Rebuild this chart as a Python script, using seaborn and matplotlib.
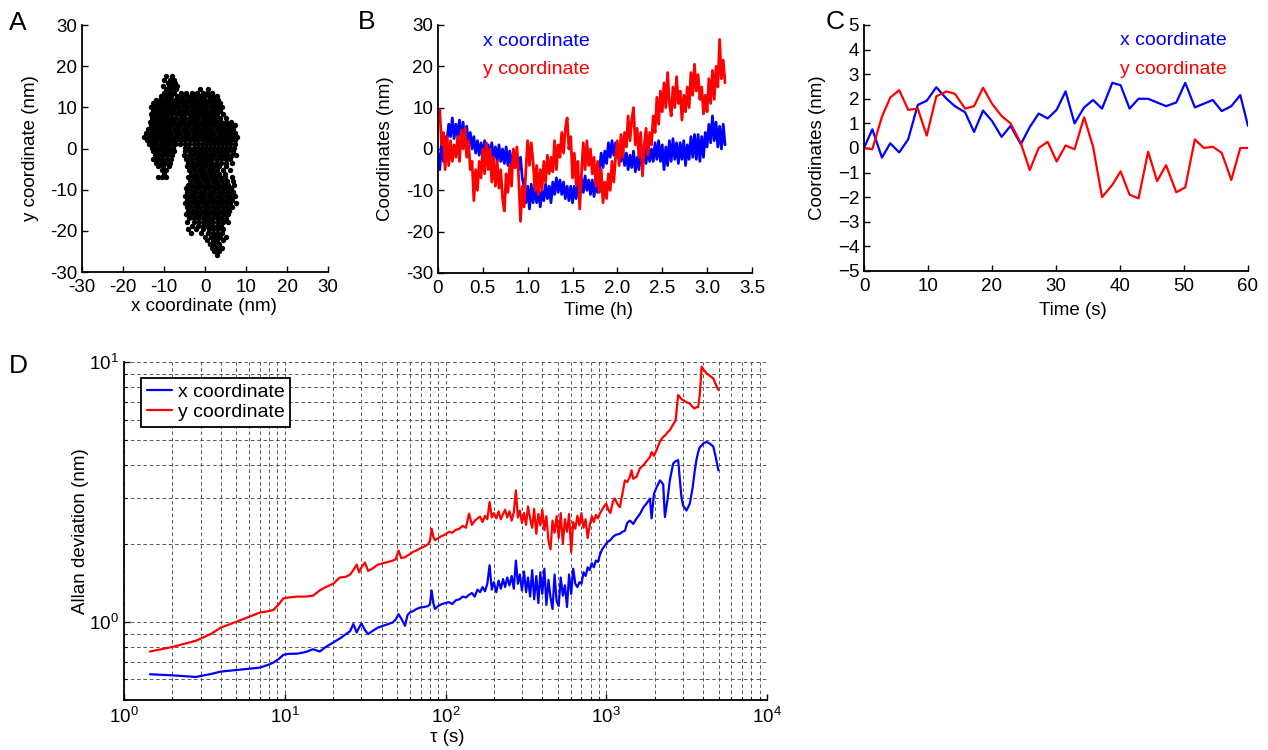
import numpy as np
import matplotlib
matplotlib.use("Agg")
import matplotlib.pyplot as plt
import matplotlib.ticker as mticker
import seaborn as sns

BLUE = "#0000ff"
RED = "#ff0000"

# ---------------- Panel A: bead positions (nm), stored row by row as (y, [x, ...])
a_rows = [
    (17.6, [-9.4, -8.1]),
    (16.7, [-9.9, -8.6, -7.6]),
    (15.9, [-9.1, -8.0, -7.3]),
    (15.1, [-10.2, -8.7, -7.8, -6.9]),
    (14.4, [-9.6, -8.4, -7.2, -1.3, 0.8]),
    (13.6, [-10.1, -8.9, -7.6, -5.9, -4.6, -3.2, -1.9, -0.6, 0.6, 1.8]),
    (12.8, [-10.8, -9.4, -8.2, -6.9, -5.6, -4.4, -3.4, -2.4, -1.3, -0.2, 0.9, 2.0, 2.9]),
    (11.9, [-12.0, -11.0, -10.0, -9.1, -8.2, -7.3, -6.2, -5.1, -4.0, -3.0, -2.0, -1.0, 0.1, 1.1, 2.1, 3.2]),
    (11.0, [-12.8, -11.8, -10.8, -9.8, -8.8, -7.8, -6.8, -5.7, -4.6, -3.5, -2.5, -1.5, -0.5, 0.6, 1.6, 2.6, 3.6]),
    (10.1, [-13.2, -12.2, -11.2, -10.2, -9.3, -8.3, -7.3, -6.3, -5.2, -4.1, -3.0, -2.0, -1.0, 0.0, 1.1, 2.1, 3.1, 4.2]),
    (9.2, [-12.8, -11.8, -10.8, -9.8, -8.8, -7.8, -6.7, -5.7, -4.6, -3.5, -2.5, -1.5, -0.5, 0.5, 1.6, 2.6, 3.7]),
    (8.3, [-13.3, -12.3, -11.3, -10.3, -9.3, -8.3, -7.2, -6.2, -5.1, -4.0, -3.0, -2.0, -1.0, 0.0, 1.0, 2.0, 3.0, 4.3]),
    (7.4, [-13.0, -12.0, -11.0, -10.0, -9.0, -8.0, -7.0, -5.9, -4.8, -3.7, -2.6, -1.6, -0.6, 0.4, 1.4, 2.5, 3.6, 5.0]),
    (6.5, [-13.5, -12.5, -11.5, -10.5, -9.5, -8.5, -7.5, -6.4, -5.3, -4.2, -3.1, -2.1, -1.1, -0.1, 0.9, 1.9, 2.9, 4.0, 5.2, 6.4]),
    (5.6, [-13.2, -12.2, -11.2, -10.2, -9.2, -8.2, -7.1, -6.0, -4.9, -3.8, -2.7, -1.6, -0.6, 0.4, 1.4, 2.5, 3.5, 4.5, 5.5, 6.6, 7.4]),
    (4.7, [-13.8, -12.7, -11.7, -10.7, -9.7, -8.7, -7.6, -6.5, -5.4, -4.3, -3.2, -2.2, -1.2, -0.2, 0.8, 1.8, 2.8, 3.8, 4.8, 5.8, 6.9]),
    (3.8, [-14.4, -13.3, -12.3, -11.3, -10.3, -9.3, -8.2, -7.1, -6.0, -4.9, -3.8, -2.7, -1.7, -0.7, 0.3, 1.3, 2.3, 3.3, 4.3, 5.3, 6.3, 7.4]),
    (2.9, [-14.8, -13.7, -12.7, -11.7, -10.7, -9.7, -8.7, -7.6, -6.5, -5.4, -4.3, -3.2, -2.2, -1.2, -0.2, 0.8, 1.8, 2.8, 3.8, 4.8, 5.8, 6.8, 7.7]),
    (2.0, [-14.2, -13.1, -12.1, -11.1, -10.1, -9.1, -8.1, -7.0, -5.9, -4.8, -3.7, -2.6, -1.6, -0.6, 0.4, 1.4, 2.4, 3.4, 4.4, 5.4, 6.4, 7.3]),
    (1.1, [-13.6, -12.6, -11.6, -10.6, -9.6, -8.5, -7.4, -6.2, -5.0, -3.9, -2.8, -1.8, -0.8, 0.2, 1.2, 2.2, 3.2, 4.2, 5.2, 6.2, 7.2]),
    (0.2, [-13.0, -12.0, -11.0, -10.0, -9.0, -7.9, -5.0, -3.9, -2.8, -1.8, -0.8, 0.2, 1.2, 2.2, 3.2, 4.2, 5.2, 6.2, 7.0]),
    (-0.7, [-12.6, -11.6, -10.6, -9.6, -8.6, -7.6, -4.8, -3.6, -2.5, -1.4, -0.4, 0.6, 1.6, 2.6, 3.6, 4.6, 5.6, 6.7]),
    (-1.6, [-12.2, -11.2, -10.2, -9.2, -8.1, -5.2, -4.0, -2.9, -1.8, -0.8, 0.2, 1.2, 2.2, 3.3, 4.4, 5.4, 6.5, 7.5]),
    (-2.5, [-12.6, -11.4, -10.4, -9.3, -8.2, -4.6, -3.4, -2.3, -1.2, -0.2, 0.8, 1.8, 2.9, 4.0, 5.1, 6.2]),
    (-3.4, [-11.9, -10.8, -9.7, -8.5, -4.1, -2.9, -1.8, -0.7, 0.3, 1.4, 2.6, 3.9, 5.2, 6.6]),
    (-4.3, [-11.4, -10.2, -8.9, -4.5, -3.2, -2.1, -1.0, 0.1, 1.2, 2.3, 3.5, 5.0]),
    (-5.2, [-10.6, -9.5, -3.8, -2.6, -1.5, -0.4, 0.7, 1.8, 3.0, 4.4, 6.0]),
    (-6.1, [-10.0, -3.4, -2.2, -1.1, 0.0, 1.1, 2.2, 3.3, 4.8]),
    (-7.0, [-11.5, -10.4, -9.4, -4.2, -3.0, -1.9, -0.8, 0.3, 1.4, 2.5, 3.6, 4.9, 6.6]),
    (-7.9, [-3.6, -2.5, -1.4, -0.3, 0.8, 1.9, 3.0, 4.1, 5.3, 6.8]),
    (-8.8, [-4.2, -3.1, -2.0, -0.9, 0.2, 1.3, 2.4, 3.5, 4.6, 5.7, 7.0]),
    (-9.7, [-4.7, -3.6, -2.5, -1.4, -0.3, 0.8, 1.9, 3.0, 4.1, 5.2, 6.3]),
    (-10.6, [-4.3, -3.2, -2.1, -1.0, 0.1, 1.2, 2.3, 3.4, 4.5, 5.6, 6.7]),
    (-11.5, [-4.8, -3.7, -2.6, -1.5, -0.4, 0.7, 1.8, 2.9, 4.0, 5.1, 6.2, 7.3]),
    (-12.4, [-4.4, -3.3, -2.2, -1.1, 0.0, 1.1, 2.2, 3.3, 4.4, 5.5, 6.6]),
    (-13.3, [-4.9, -3.8, -2.7, -1.6, -0.5, 0.6, 1.7, 2.8, 3.9, 5.0, 6.1, 7.5]),
    (-14.2, [-4.5, -3.4, -2.3, -1.2, -0.1, 1.0, 2.1, 3.2, 4.3, 5.4, 6.5]),
    (-15.1, [-4.1, -3.0, -1.9, -0.8, 0.3, 1.4, 2.5, 3.6, 4.7, 5.9]),
    (-16.0, [-4.6, -3.4, -2.3, -1.2, -0.1, 1.0, 2.1, 3.2, 4.3, 5.5]),
    (-16.9, [-3.9, -2.7, -1.6, -0.5, 0.6, 1.7, 2.8, 3.9, 5.1]),
    (-17.8, [-4.3, -2.8, -1.5, -0.3, 0.9, 2.0, 3.1, 4.3, 5.6]),
    (-18.7, [-3.3, -1.8, -0.6, 0.6, 1.7, 2.8, 4.0]),
    (-19.6, [-4.1, -2.2, -0.4, 0.9, 2.0, 3.1, 4.4]),
    (-20.5, [-3.5, -0.9, 0.8, 1.9, 3.0, 4.2]),
    (-21.4, [-0.1, 1.4, 2.5, 3.6, 5.0]),
    (-22.3, [0.6, 1.9, 3.0, 4.3]),
    (-23.2, [1.1, 2.3, 3.5]),
    (-24.1, [1.8, 2.9, 4.1]),
    (-25.0, [2.2, 3.4]),
    (-25.9, [2.8]),
]
a_x = [x for y, xs in a_rows for x in xs]
a_y = [y for y, xs in a_rows for x in xs]

# ---------------- Panel B: drift over 3.2 h, one sample every 0.02 h (nm)
b_x = [-1, -5, 2, -3, 3,
       2, 6, 3, 7.5, 2.5,
       6, 3, 7, 2, 6.5,
       1.5, 5.5, 1, 4, 0,
       3, -1, 2, -1.5, 1.5,
       -2, 2, -2.5, 1, -2,
       1.5, -2.5, 0.5, -3, 1,
       -3, 0, -3.5, 0.5, -4,
       -0.5, -4, -1, -4.5, -1.5,
       -5, -2, -7, -9, -13,
       -9, -14.5, -8.5, -13, -9,
       -13, -9.5, -14, -10, -12.5,
       -8.5, -12, -9, -13, -8,
       -11, -7, -10.5, -7.5, -11,
       -8, -12, -9, -12.5, -9,
       -13, -9, -12, -8.5, -11,
       -7, -10.5, -6.5, -10, -7.5,
       -11, -7.5, -11.5, -8, -10.5,
       -5, -1, -4.5, -0.5, -3.5,
       1.5, -2, 2, -1.5, 1.5,
       -2, 0.5, -3, 0, -4,
       -1, -5, -1.5, -4.5, -0.5,
       -5.5, -2, -5, -1, -4,
       0.5, -3.5, 1, -3, 0,
       -3, 1.5, -2.5, 2, -3,
       1, -5, 0.5, -4, 2,
       -3, 2.5, -2.5, 1.5, -3.5,
       1.5, -2.5, 2, -4, 1,
       -2.5, 3, -2, 3.5, -2.5,
       3.5, -3, 3, -2, 4,
       0.5, 6, 1.5, 8, 2,
       6.5, 0.5, 5.5, 0, 6,
       1]
b_y = [8, 9.5, 1, 4, -5,
       3, -4, 2, -3, 1,
       -2, 3, -3, 4.5, 0,
       5, -2, 2, -5, -3,
       -12.5, -5, -10, -3, -7,
       0, -6, 1.5, -5, 0,
       -8, -2, -9, -3, -9.5,
       -5, -12, -15, -6, -10.5,
       -4, -9, 0, -4.5, 0.5,
       -7, -17.5, -9, -14, -5,
       2, -4, 1.5, -3, -10,
       -4, -11, -5, -10, -3,
       -8, -1.5, -6, -2, -5.5,
       2, -5, 1, -2, 4,
       -1, 5, 7.5, 0, 3,
       -7, -1, -8.5, -3, -14.5,
       -6, 1.5, -5, 2, -4,
       0, -6, -2, -9, -3,
       -10.5, -5, -13, -8, -12,
       -6, -10, -3, -8, -2,
       2, -4, 3.5, -2, 4,
       0.5, 8, 2, 7, 10,
       1, 5, -2, 4, -6.5,
       1, 5, -1.5, 4, 1,
       8, 4, 12.5, 6, 14,
       9, 16, 10, 18.5, 11,
       8, 15, 10, 17.5, 11,
       14, 7, 13, 9, 15,
       10, 18.5, 13, 20.5, 14,
       18, 12, 15, 8.5, 13,
       9, 17, 11, 19, 12,
       20, 15, 26.5, 17, 21.5,
       16]
b_hours = np.linspace(0.0, 3.2, len(b_x))

# ---------------- Panel C: first minute (s, nm)
c_time = [0, 1.3, 2.8, 4.1, 5.5, 6.9, 8.4, 9.8, 11.3, 12.9, 14.2, 15.8, 17.2, 18.6,
          20.0, 21.5, 22.9, 24.5, 25.9, 27.3, 28.7, 30.1, 31.5, 32.9, 34.4, 35.8,
          37.2, 38.8, 40.1, 41.5, 42.9, 44.4, 45.8, 47.2, 48.8, 50.2, 51.7, 53.1,
          54.5, 55.9, 57.4, 58.8, 60.0]
c_x = [0.0, 0.76, -0.39, 0.19, -0.18, 0.35, 1.75, 1.92, 2.47, 2.0, 1.7, 1.45, 0.65,
       1.52, 1.1, 0.45, 0.9, 0.15, 0.85, 1.4, 1.2, 1.55, 2.3, 1.0, 1.65, 1.95, 1.6,
       2.65, 2.55, 1.6, 2.0, 2.0, 1.85, 1.7, 1.85, 2.65, 1.65, 1.8, 1.95, 1.5, 1.7,
       2.15, 0.9]
c_y = [0.0, -0.05, 1.27, 2.05, 2.35, 1.55, 1.6, 0.5, 2.1, 2.3, 2.2, 1.6, 1.7, 2.45,
       1.8, 1.3, 1.0, 0.2, -0.9, 0.0, 0.25, -0.55, 0.1, -0.05, 1.25, 0.05, -2.0,
       -1.5, -0.95, -1.9, -2.05, -0.15, -1.35, -0.7, -1.8, -1.6, 0.35, 0.0, 0.05,
       -0.2, -1.3, 0.0, 0.0]

# ---------------- Panel D: Allan deviation (tau in s, deviation in nm)
d_tau = [1.45, 2.0, 2.8, 3.5, 4.0, 5.0, 6.0, 7.0, 8.0, 8.5, 9.2, 9.8, 10.5, 12, 13.5,
         15, 16.5, 18, 20, 22, 24, 25.5, 26.7, 28, 29, 30, 31.5, 33, 35, 38, 41, 44,
         47, 49, 51, 53, 56, 58, 60,
         63, 66, 70, 74, 78, 80, 82, 84, 86, 90, 95, 100, 105, 110, 116, 122, 128,
         134, 140, 146, 152, 158, 164, 170, 176, 182, 188, 194, 200, 207, 214, 221,
         228, 235, 242, 250, 258, 266, 274, 282, 290, 299, 308, 317, 326, 336, 346,
         356, 367, 378, 389, 400, 412, 424, 437, 450, 463, 477, 491, 506, 521, 537,
         553, 570, 587, 605, 623, 642, 661, 681, 701, 722, 744, 766, 789, 813, 837,
         862, 888, 915, 943, 971, 1000,
         1030, 1060, 1100, 1130, 1170, 1216, 1260, 1306, 1350, 1400, 1437, 1472,
         1545, 1620, 1700, 1780, 1870, 1915, 1980, 2060, 2160, 2260, 2316, 2400,
         2485, 2606, 2700, 2800, 2935, 3006, 3155, 3310, 3450, 3555, 3640, 3730,
         3820, 3920, 4050, 4210, 4400, 4630, 4800, 4980]
d_x = [0.628, 0.622, 0.613, 0.630, 0.643, 0.652, 0.660, 0.666, 0.685, 0.697, 0.72,
       0.746, 0.752, 0.754, 0.765, 0.784, 0.768, 0.80, 0.832, 0.862, 0.896, 0.92,
       0.98, 0.91, 0.95, 0.985, 0.93, 0.896, 0.92, 0.95, 0.965, 0.98, 0.994, 1.02,
       1.07, 1.03, 0.965, 1.06, 1.086,
       1.10, 1.12, 1.136, 1.14, 1.15, 1.17, 1.32, 1.18, 1.12, 1.15, 1.17, 1.18,
       1.19, 1.17, 1.21, 1.22, 1.25, 1.24, 1.27, 1.29, 1.25, 1.33, 1.30, 1.36,
       1.31, 1.40, 1.65, 1.33, 1.42, 1.30, 1.44, 1.34, 1.46, 1.36, 1.48, 1.38,
       1.50, 1.34, 1.72, 1.40, 1.52, 1.32, 1.56, 1.30, 1.48, 1.25, 1.58, 1.22,
       1.50, 1.18, 1.55, 1.28, 1.60, 1.16, 1.45, 1.24, 1.12, 1.52, 1.20, 1.15,
       1.48, 1.26, 1.38, 1.14, 1.52, 1.28, 1.60, 1.40, 1.36, 1.42, 1.40, 1.55,
       1.50, 1.62, 1.58, 1.68, 1.62, 1.72, 1.70, 1.82, 1.90, 1.95, 2.00,
       2.04, 2.06, 2.12, 2.15, 2.17, 2.18, 2.22, 2.24, 2.40, 2.45, 2.42, 2.38,
       2.50, 2.60, 2.75, 2.85, 2.98, 2.50, 3.11, 3.30, 3.50, 3.38, 2.53, 2.93,
       3.50, 4.06, 4.15, 4.19, 3.02, 2.80, 2.68, 2.85, 3.30, 3.83, 4.20, 4.50,
       4.70, 4.77, 4.88, 4.92, 4.85, 4.73, 4.30, 3.83]
d_y = [0.768, 0.80, 0.845, 0.90, 0.95, 1.00, 1.045, 1.085, 1.10, 1.11, 1.17, 1.23,
       1.24, 1.25, 1.25, 1.26, 1.32, 1.36, 1.40, 1.48, 1.49, 1.52, 1.58, 1.66, 1.55,
       1.62, 1.69, 1.57, 1.60, 1.66, 1.68, 1.70, 1.72, 1.74, 1.88, 1.76, 1.77, 1.80,
       1.82,
       1.86, 1.88, 1.92, 1.95, 1.99, 2.05, 2.28, 2.12, 2.06, 2.10, 2.14, 2.17,
       2.22, 2.20, 2.26, 2.28, 2.34, 2.30, 2.61, 2.36, 2.45, 2.50, 2.54, 2.42,
       2.56, 2.48, 2.89, 2.52, 2.62, 2.50, 2.66, 2.48, 2.60, 2.70, 2.52, 2.66,
       2.45, 2.64, 3.20, 2.52, 2.68, 2.40, 2.62, 2.36, 2.78, 2.50, 2.30, 2.72,
       2.18, 2.60, 2.35, 2.70, 2.25, 2.55, 2.05, 1.90, 2.45, 2.20, 2.55, 2.10,
       2.62, 2.00, 2.48, 2.22, 2.60, 1.85, 2.42, 2.28, 2.56, 2.35, 2.62, 2.30,
       2.48, 2.10, 2.35, 2.55, 2.42, 2.58, 2.50, 2.62, 2.70, 2.78, 2.85,
       2.70, 2.62, 2.90, 2.98, 2.85, 2.76, 3.10, 3.50, 3.45, 3.60, 3.83, 3.55,
       3.62, 3.90, 4.00, 4.15, 4.31, 4.50, 4.35, 4.60, 4.95, 5.15, 5.20, 5.35,
       5.46, 5.75, 5.95, 7.46, 7.20, 7.13, 7.00, 6.92, 6.70, 6.62, 6.70, 6.70,
       7.50, 9.60, 9.30, 9.04, 8.85, 8.65, 8.20, 7.80]

# ---------------- Style
sns.set_style("ticks")
plt.rcParams.update({
    "font.family": ["Liberation Sans", "DejaVu Sans"],
    "font.size": 13.5,
    "axes.unicode_minus": False,
    "mathtext.fontset": "custom",
    "mathtext.rm": "Liberation Sans",
    "mathtext.it": "Liberation Sans:italic",
    "mathtext.default": "regular",
    "axes.linewidth": 1.3,
    "axes.edgecolor": "black",
    "axes.labelcolor": "black",
    "text.color": "black",
    "xtick.color": "black",
    "ytick.color": "black",
    "xtick.direction": "in",
    "ytick.direction": "in",
    "xtick.major.size": 4.5,
    "ytick.major.size": 4.5,
    "xtick.minor.size": 2.5,
    "ytick.minor.size": 2.5,
    "xtick.major.width": 1.0,
    "ytick.major.width": 1.0,
    "xtick.minor.width": 0.8,
    "ytick.minor.width": 0.8,
    "xtick.major.pad": 5,
    "ytick.major.pad": 3.5,
    "xtick.labelsize": 13.5,
    "ytick.labelsize": 13.5,
    "axes.labelsize": 13.5,
})

fig = plt.figure(figsize=(12.68, 7.5), dpi=100)
axA = fig.add_axes([0.0647, 0.6373, 0.194, 0.3293])
axB = fig.add_axes([0.3454, 0.636, 0.2476, 0.3307])
axC = fig.add_axes([0.6814, 0.6387, 0.3028, 0.328])
axD = fig.add_axes([0.0978, 0.0667, 0.5071, 0.4507])


def open_box(ax):
    for side in ("top", "right"):
        ax.spines[side].set_visible(False)


def place_labels(ax, xl, yl):
    ax.xaxis.set_label_coords(*xl)
    ax.yaxis.set_label_coords(*yl)
    ax.xaxis.label.set_va("center")
    ax.yaxis.label.set_va("center")


# A: scatter of positions
sns.scatterplot(x=a_x, y=a_y, ax=axA, color="black", s=15, linewidth=0, alpha=1.0)
axA.set_xlim(-30, 30)
axA.set_ylim(-30, 30)
axA.set_xticks(range(-30, 31, 10))
axA.set_yticks(range(-30, 31, 10))
axA.set_xlabel("x coordinate (nm)")
axA.set_ylabel("y coordinate (nm)")
place_labels(axA, (0.496, -0.14), (-0.211, 0.5))
open_box(axA)

# B: long time traces
sns.lineplot(x=b_hours, y=b_x, ax=axB, color=BLUE, lw=2.0, sort=False, estimator=None)
sns.lineplot(x=b_hours, y=b_y, ax=axB, color=RED, lw=2.0, sort=False, estimator=None)
axB.set_xlim(0, 3.5)
axB.set_ylim(-30, 30)
axB.set_xticks([0, 0.5, 1.0, 1.5, 2.0, 2.5, 3.0, 3.5])
axB.set_xticklabels(["0", "0.5", "1.0", "1.5", "2.0", "2.5", "3.0", "3.5"])
axB.set_yticks(range(-30, 31, 10))
axB.set_xlabel("Time (h)")
axB.set_ylabel("Coordinates (nm)")
place_labels(axB, (0.51, -0.152), (-0.166, 0.5))
axB.text(0.143, 0.935, "x coordinate", color=BLUE, fontsize=14,
         transform=axB.transAxes, va="center", ha="left")
axB.text(0.143, 0.819, "y coordinate", color=RED, fontsize=14,
         transform=axB.transAxes, va="center", ha="left")
open_box(axB)

# C: first minute
sns.lineplot(x=c_time, y=c_x, ax=axC, color=BLUE, lw=1.6, sort=False, estimator=None)
sns.lineplot(x=c_time, y=c_y, ax=axC, color=RED, lw=1.6, sort=False, estimator=None)
axC.set_xlim(0, 60)
axC.set_ylim(-5, 5)
axC.set_xticks(range(0, 61, 10))
axC.set_yticks(range(-5, 6))
axC.set_yticklabels([str(v).replace("-", "\u2212") for v in range(-5, 6)])
axC.set_xlabel("Time (s)")
axC.set_ylabel("Coordinates (nm)")
place_labels(axC, (0.545, -0.159), (-0.122, 0.5))
axC.text(0.667, 0.935, "x coordinate", color=BLUE, fontsize=14,
         transform=axC.transAxes, va="center", ha="left")
axC.text(0.667, 0.817, "y coordinate", color=RED, fontsize=14,
         transform=axC.transAxes, va="center", ha="left")
open_box(axC)

# D: Allan deviation on log-log axes
sns.lineplot(x=d_tau, y=d_x, ax=axD, color=BLUE, lw=1.6, sort=False,
             estimator=None, label="x coordinate")
sns.lineplot(x=d_tau, y=d_y, ax=axD, color=RED, lw=1.6, sort=False,
             estimator=None, label="y coordinate")
axD.set_xscale("log")
axD.set_yscale("log")
axD.set_xlim(1, 1e4)
axD.set_ylim(0.5, 10)
axD.xaxis.set_major_locator(mticker.LogLocator(base=10))
axD.xaxis.set_minor_locator(mticker.LogLocator(base=10, subs=range(2, 10)))
axD.yaxis.set_major_locator(mticker.FixedLocator([1, 10]))
axD.yaxis.set_minor_locator(mticker.FixedLocator([0.5, 0.6, 0.7, 0.8, 0.9, 2, 3, 4, 5, 6, 7, 8, 9]))
axD.xaxis.set_major_formatter(mticker.LogFormatterSciNotation())
axD.yaxis.set_major_formatter(mticker.LogFormatterSciNotation())
axD.xaxis.set_minor_formatter(mticker.NullFormatter())
axD.yaxis.set_minor_formatter(mticker.NullFormatter())
axD.grid(True, which="both", linestyle=(0, (4, 3)), color="0.3", linewidth=0.65)
axD.set_axisbelow(True)
axD.set_xlabel("\u03c4 (s)")
axD.set_ylabel("Allan deviation (nm)")
place_labels(axD, (0.502, -0.112), (-0.068, 0.5))
open_box(axD)
leg = axD.legend(loc="upper left", bbox_to_anchor=(0.026, 0.953), borderaxespad=0,
                 frameon=True, fancybox=False, edgecolor="black", framealpha=1,
                 handlelength=1.3, handletextpad=0.3, borderpad=0.3,
                 labelspacing=0.1, fontsize=14)
leg.get_frame().set_linewidth(1.3)

# panel letters
for letter, (fx, fy) in {"A": (0.0142, 0.969), "B": (0.2894, 0.971),
                         "C": (0.6585, 0.971), "D": (0.0142, 0.512)}.items():
    fig.text(fx, fy, letter, fontsize=19, ha="center", va="center")

fig.savefig("out.png", dpi=100)
